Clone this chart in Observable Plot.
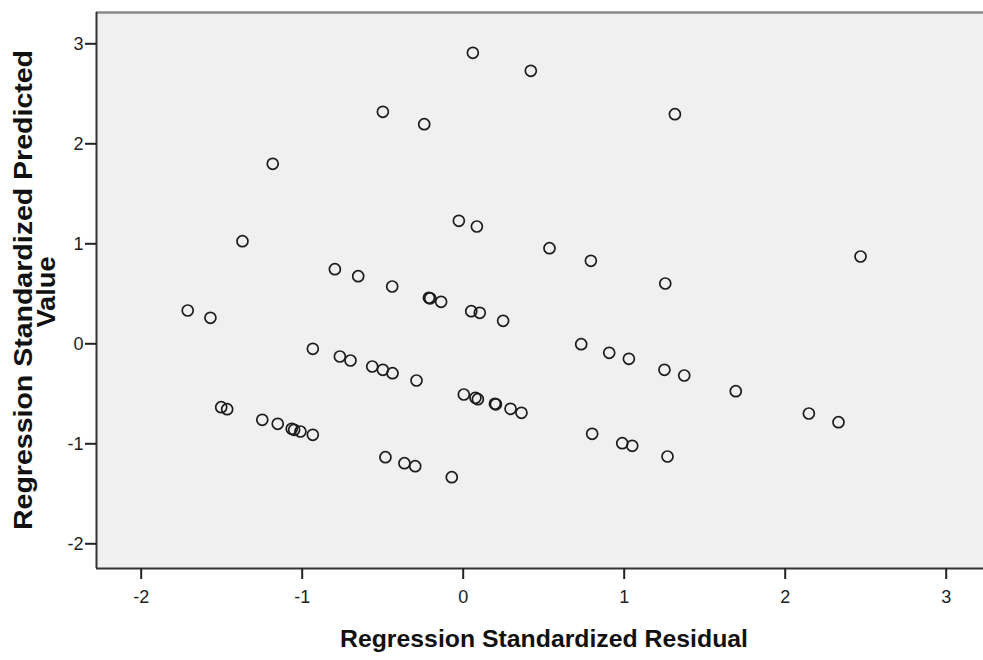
<!DOCTYPE html>
<html>
<head>
<meta charset="utf-8">
<script src="https://cdn.jsdelivr.net/npm/d3@7"></script>
<script src="https://cdn.jsdelivr.net/npm/@observablehq/plot@0.6"></script>
<style>
  html, body { margin: 0; padding: 0; background: #ffffff; }
  #chart svg { display: block; }
</style>
</head>
<body>
<div id="chart"></div>
<script>
// Regression Standardized Residual (x)
const residual = [
  0.060, 0.420, -0.499, -0.242, 1.315, -1.183, -1.371, -0.027, 0.085, 0.536,
  0.793, 2.468, -0.797, -0.652, -0.441, 1.255, -0.213, -0.205, -0.137, 0.050,
  0.103, 0.248, -1.711, -1.570, -0.934, -0.766, -0.700, -0.565, -0.499, -0.439,
  -0.290, 0.733, 0.907, 1.029, 1.250, 1.373, 1.693, 2.147, 2.331, 0.004,
  0.076, 0.091, 0.197, 0.203, 0.294, 0.362, -1.503, -1.466, -1.248, -1.152,
  -1.065, -1.050, -1.011, -0.934, 0.801, 0.988, 1.050, 1.269, -0.483, -0.365,
  -0.298, -0.071
];
// Regression Standardized Predicted Value (y)
const predicted = [
  2.870, 2.690, 2.280, 2.156, 2.256, 1.760, 0.986, 1.190, 1.133, 0.916,
  0.790, 0.833, 0.706, 0.636, 0.533, 0.563, 0.420, 0.415, 0.380, 0.286,
  0.270, 0.190, 0.293, 0.220, -0.090, -0.167, -0.207, -0.267, -0.300, -0.334,
  -0.407, -0.044, -0.130, -0.190, -0.300, -0.357, -0.514, -0.737, -0.824, -0.547,
  -0.580, -0.594, -0.640, -0.645, -0.690, -0.730, -0.674, -0.694, -0.800, -0.840,
  -0.890, -0.900, -0.917, -0.950, -0.940, -1.034, -1.060, -1.167, -1.174, -1.234,
  -1.264, -1.374
];
const xTicks = [-2, -1, 0, 1, 2, 3];
const yTicks = [-2, -1, 0, 1, 2, 3];
const xDomain = [-2.2776, 3.2317];
const yDomain = [-2.287, 3.273];
const xTitle = "Regression Standardized Residual";
const yTitleLines = ["Regression Standardized Predicted", "Value"];

const points = residual.map((r, i) => ({residual: r, predicted: predicted[i]}));

const W = 983, H = 660;
const tickFont = "'Liberation Sans Narrow', 'Liberation Sans', Arial, sans-serif";

const chart = Plot.plot({
  width: W,
  height: H,
  marginLeft: 96,
  marginRight: 0,
  marginTop: 12,
  marginBottom: 92,
  style: {background: "#ffffff", fontFamily: tickFont, overflow: "visible"},
  x: {domain: xDomain, label: null},
  y: {domain: yDomain, label: null},
  marks: [
    Plot.frame({fill: "#f0f0f0", stroke: "none"}),
    Plot.ruleY([yDomain[1]], {stroke: "#8a8a8a", strokeWidth: 2.5}),
    Plot.ruleY([yDomain[0]], {stroke: "#333333", strokeWidth: 2}),
    Plot.ruleX([xDomain[0]], {stroke: "#333333", strokeWidth: 2}),
    Plot.axisX({ticks: xTicks, tickSize: 11, tickPadding: 11, tickFormat: d => d < 0 ? "-" + Math.abs(d) : String(d),
      color: "#222", strokeWidth: 2, fontSize: 18, label: null}),
    Plot.axisY({ticks: yTicks, tickSize: 11, tickPadding: 2, dy: 4, tickFormat: d => d < 0 ? "-" + Math.abs(d) : String(d),
      color: "#222", strokeWidth: 2, fontSize: 18, label: null}),
    Plot.dot(points, {x: "residual", y: "predicted", r: 5.5, stroke: "#1c1c1c", strokeWidth: 1.7, fill: "none"})
  ]
});

const svg = d3.select(chart);
const titleFont = "'Liberation Sans', Arial, sans-serif";
svg.append("text")
  .attr("x", 544).attr("y", 647)
  .attr("text-anchor", "middle")
  .attr("font-family", titleFont)
  .attr("font-weight", "bold")
  .attr("font-size", 24)
  .attr("fill", "#111")
  .attr("textLength", 408)
  .attr("lengthAdjust", "spacingAndGlyphs")
  .text(xTitle);

const yt = svg.append("g").attr("transform", "translate(0,290) rotate(-90)");
yt.append("text")
  .attr("x", 0).attr("y", 32)
  .attr("text-anchor", "middle")
  .attr("font-family", titleFont)
  .attr("font-weight", "bold")
  .attr("font-size", 25)
  .attr("fill", "#111")
  .attr("textLength", 480)
  .attr("lengthAdjust", "spacingAndGlyphs")
  .text(yTitleLines[0]);
yt.append("text")
  .attr("x", -2).attr("y", 55)
  .attr("text-anchor", "middle")
  .attr("font-family", titleFont)
  .attr("font-weight", "bold")
  .attr("font-size", 25)
  .attr("fill", "#111")
  .attr("textLength", 71)
  .attr("lengthAdjust", "spacingAndGlyphs")
  .text(yTitleLines[1]);

document.getElementById("chart").appendChild(chart);
</script>
</body>
</html>
